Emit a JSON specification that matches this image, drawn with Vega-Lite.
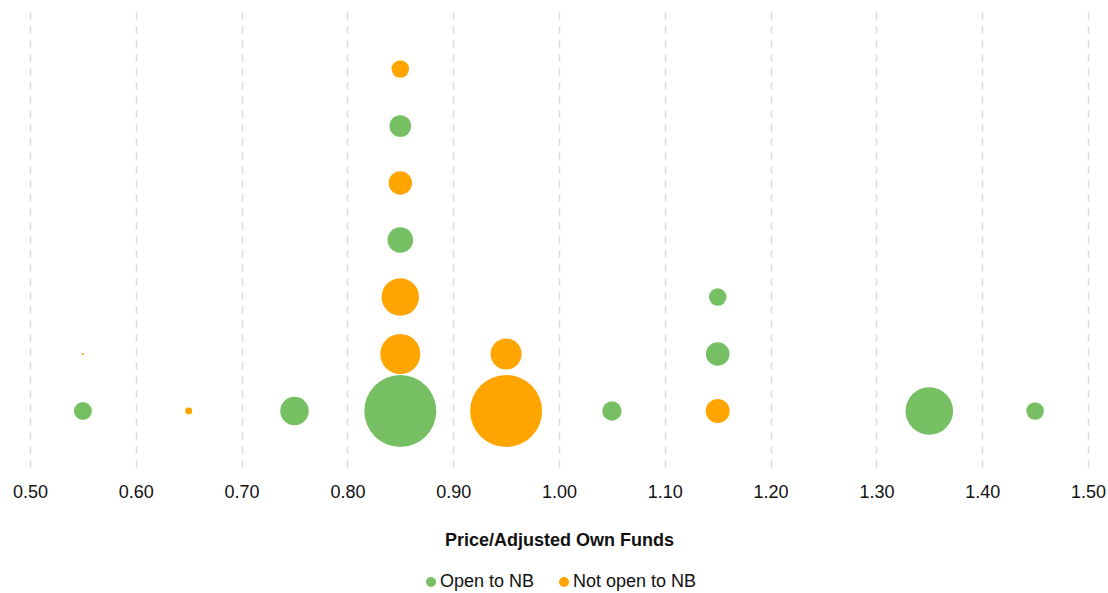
{
  "$schema": "https://vega.github.io/schema/vega-lite/v6.json",
  "width": 1058,
  "height": 456,
  "autosize": {"type": "none"},
  "padding": {"left": 30, "top": 12, "right": 20, "bottom": 125},
  "background": "white",
  "config": {
    "font": "Liberation Sans",
    "view": {"stroke": null}
  },
  "data": {
    "values": [
      {"pafx": 0.55, "level": 1, "status": "Open to NB", "size": 81},
      {"pafx": 0.55, "level": 2, "status": "Not open to NB", "size": 1.2},
      {"pafx": 0.65, "level": 1, "status": "Not open to NB", "size": 12},
      {"pafx": 0.75, "level": 1, "status": "Open to NB", "size": 204},
      {"pafx": 0.85, "level": 1, "status": "Open to NB", "size": 1296},
      {"pafx": 0.85, "level": 2, "status": "Not open to NB", "size": 400},
      {"pafx": 0.85, "level": 3, "status": "Not open to NB", "size": 350},
      {"pafx": 0.85, "level": 4, "status": "Open to NB", "size": 164},
      {"pafx": 0.85, "level": 5, "status": "Not open to NB", "size": 137},
      {"pafx": 0.85, "level": 6, "status": "Open to NB", "size": 117},
      {"pafx": 0.85, "level": 7, "status": "Not open to NB", "size": 77},
      {"pafx": 0.95, "level": 1, "status": "Not open to NB", "size": 1296},
      {"pafx": 0.95, "level": 2, "status": "Not open to NB", "size": 240},
      {"pafx": 1.05, "level": 1, "status": "Open to NB", "size": 94},
      {"pafx": 1.15, "level": 1, "status": "Not open to NB", "size": 144},
      {"pafx": 1.15, "level": 2, "status": "Open to NB", "size": 139},
      {"pafx": 1.15, "level": 3, "status": "Open to NB", "size": 76},
      {"pafx": 1.35, "level": 1, "status": "Open to NB", "size": 566},
      {"pafx": 1.45, "level": 1, "status": "Open to NB", "size": 77}
    ]
  },
  "mark": {"type": "circle", "opacity": 1},
  "encoding": {
    "x": {
      "field": "pafx",
      "type": "quantitative",
      "title": "Price/Adjusted Own Funds",
      "scale": {"domain": [0.5, 1.5], "nice": false, "zero": false},
      "axis": {
        "values": [0.5, 0.6, 0.7, 0.8, 0.9, 1.0, 1.1, 1.2, 1.3, 1.4, 1.5],
        "format": ".2f",
        "domain": false,
        "ticks": false,
        "grid": true,
        "gridColor": "#d9d9d9",
        "gridDash": [7, 7],
        "gridWidth": 1.5,
        "labelFlush": false,
        "labelFontSize": 18,
        "labelColor": "#111111",
        "labelPadding": 15,
        "titleFontSize": 18,
        "titleFontWeight": "bold",
        "titleColor": "#111111",
        "titlePadding": 30
      }
    },
    "y": {
      "field": "level",
      "type": "quantitative",
      "scale": {"domain": [0, 8], "nice": false},
      "axis": null
    },
    "size": {
      "field": "size",
      "type": "quantitative",
      "scale": {"type": "linear", "domain": [0, 1296], "range": [0, 5184], "zero": true},
      "legend": null
    },
    "color": {
      "field": "status",
      "type": "nominal",
      "scale": {"domain": ["Open to NB", "Not open to NB"], "range": ["#76C063", "#FFA500"]},
      "legend": {
        "title": null,
        "orient": "none",
        "legendX": 392,
        "legendY": 561,
        "direction": "horizontal",
        "symbolType": "circle",
        "symbolSize": 100,
        "symbolOpacity": 1,
        "labelFontSize": 18,
        "labelColor": "#111111",
        "labelOffset": 0,
        "columnPadding": 20
      }
    }
  }
}
